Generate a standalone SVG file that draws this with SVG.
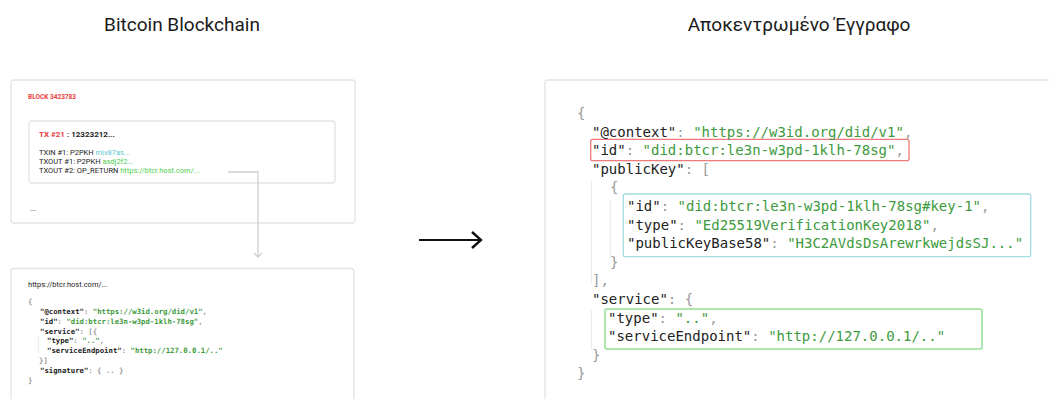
<svg xmlns="http://www.w3.org/2000/svg" width="1049" height="399" viewBox="0 0 1049 399">
<style>
.title{font-family:Roboto,"Liberation Sans",sans-serif;font-size:19px;fill:#1a1a1a;text-anchor:middle}
.card{fill:#fff;stroke:#e4e4e4;stroke-width:1.3}
.sans{font-family:Roboto,"Liberation Sans",Arial,sans-serif;fill:#222}
.mono{font-family:"DejaVu Sans Mono","Liberation Mono",monospace;fill:#222}
.big{font-size:14px}
.small{font-size:7.3px;font-weight:bold}
.s{fill:#3d9a3d}
.p{fill:#9a9a9a}
.red{fill:#e8403c}
.teal{fill:#5cc6cf}
.lime{fill:#4fcf4f}
.guide{stroke:#ececec;stroke-width:1.2;fill:none}
.conn{fill:none;stroke:#cfcfcf;stroke-width:1.3}
.main{fill:none;stroke:#111;stroke-width:2.2}
</style>
<defs>
<marker id="chev-small" markerUnits="userSpaceOnUse" markerWidth="12" markerHeight="12" viewBox="-6 -6 12 12" refX="0" refY="0" orient="auto">
<path d="M-4,-4 L0,0 L-4,4" fill="none" stroke="#cfcfcf" stroke-width="1.3"/>
</marker>
<marker id="chev-big" markerUnits="userSpaceOnUse" markerWidth="24" markerHeight="24" viewBox="-12 -12 24 24" refX="0" refY="0" orient="auto">
<path d="M-9,-8 L0,0 L-9,8" fill="none" stroke="#111" stroke-width="2.4"/>
</marker>
</defs>
<rect width="1049" height="399" fill="#fff"/>

<text class="title" x="182" y="31">Bitcoin Blockchain</text>
<text class="title" x="799" y="31">Αποκεντρωμένο Έγγραφο</text>

<g id="block">
<rect class="card" x="11" y="80" width="344" height="143" rx="3"/>
<text class="sans red" x="28" y="99" font-size="6.5" font-weight="bold">BLOCK 3423783</text>
<text class="sans" x="30" y="211" font-size="7.5">...</text>
</g>

<g id="tx">
<rect class="card" x="29" y="121" width="306" height="62" rx="3"/>
<text class="sans" x="39" y="137" font-size="8" font-weight="bold" xml:space="preserve"><tspan class="red">TX #21</tspan> : 12323212...</text>
<text class="sans" x="39" y="155" font-size="7.5" xml:space="preserve">TXIN #1: P2PKH <tspan class="teal">miv87as...</tspan></text>
<text class="sans" x="39" y="164" font-size="7.5" xml:space="preserve">TXOUT #1: P2PKH <tspan class="lime">asdj2f2...</tspan></text>
<text class="sans" x="39" y="173" font-size="7.5" xml:space="preserve">TXOUT #2: OP_RETURN <tspan class="lime">https://btcr.host.com/...</tspan></text>
</g>

<g id="hosted-doc">
<rect class="card" x="11" y="268.5" width="343" height="150" rx="3"/>
<text class="sans" x="28" y="287" font-size="7.5">https://btcr.host.com/...</text>
<path class="guide" d="M38.5 336 V353"/>
<text class="mono small" x="28" y="304.2"><tspan class="p">{</tspan></text>
<text class="mono small" x="40" y="314" xml:space="preserve">"@context"<tspan class="p">: </tspan><tspan class="s">"https://w3id.org/did/v1"</tspan><tspan class="p">,</tspan></text>
<text class="mono small" x="40" y="323.8" xml:space="preserve">"id"<tspan class="p">: </tspan><tspan class="s">"did:btcr:le3n-w3pd-1klh-78sg"</tspan><tspan class="p">,</tspan></text>
<text class="mono small" x="40" y="333.6" xml:space="preserve">"service"<tspan class="p">: [{</tspan></text>
<text class="mono small" x="47" y="343.4" xml:space="preserve">"type"<tspan class="p">: </tspan><tspan class="s">".."</tspan><tspan class="p">,</tspan></text>
<text class="mono small" x="47" y="353.2" xml:space="preserve">"serviceEndpoint"<tspan class="p">: </tspan><tspan class="s">"http://127.0.0.1/.."</tspan></text>
<text class="mono small" x="39" y="363"><tspan class="p">}]</tspan></text>
<text class="mono small" x="40" y="372.8" xml:space="preserve">"signature"<tspan class="p">: { .. }</tspan></text>
<text class="mono small" x="28" y="382.6"><tspan class="p">}</tspan></text>
</g>

<g id="did-document">
<rect class="card" x="545" y="80" width="530" height="340" rx="3"/>
<path class="guide" d="M591.5 181 V284 M610.5 200 V258 M591.5 310 V350"/>
<rect x="590.7" y="139.3" width="318.3" height="21.4" rx="2" fill="none" stroke="#ef7a7a" stroke-width="1.3"/>
<rect x="623.3" y="194" width="407.4" height="62.7" rx="2" fill="none" stroke="#a4dde0" stroke-width="1.3"/>
<rect x="605" y="309" width="377" height="40" rx="2" fill="none" stroke="#93df93" stroke-width="1.5"/>
<text class="mono big" x="577" y="118"><tspan class="p">{</tspan></text>
<text class="mono big" x="592" y="136.6" xml:space="preserve">"@context"<tspan class="p">: </tspan><tspan class="s">"https://w3id.org/did/v1"</tspan><tspan class="p">,</tspan></text>
<text class="mono big" x="592" y="155.2" xml:space="preserve">"id"<tspan class="p">: </tspan><tspan class="s">"did:btcr:le3n-w3pd-1klh-78sg"</tspan><tspan class="p">,</tspan></text>
<text class="mono big" x="592" y="173.8" xml:space="preserve">"publicKey"<tspan class="p">: [</tspan></text>
<text class="mono big" x="610" y="192.4"><tspan class="p">{</tspan></text>
<text class="mono big" x="627" y="211" xml:space="preserve">"id"<tspan class="p">: </tspan><tspan class="s">"did:btcr:le3n-w3pd-1klh-78sg#key-1"</tspan><tspan class="p">,</tspan></text>
<text class="mono big" x="627" y="229.6" xml:space="preserve">"type"<tspan class="p">: </tspan><tspan class="s">"Ed25519VerificationKey2018"</tspan><tspan class="p">,</tspan></text>
<text class="mono big" x="627" y="248.2" xml:space="preserve">"publicKeyBase58"<tspan class="p">: </tspan><tspan class="s">"H3C2AVdsDsArewrkwejdsSJ..."</tspan></text>
<text class="mono big" x="610" y="266.8"><tspan class="p">}</tspan></text>
<text class="mono big" x="592" y="285.4"><tspan class="p">],</tspan></text>
<text class="mono big" x="592" y="304" xml:space="preserve">"service"<tspan class="p">: {</tspan></text>
<text class="mono big" x="608" y="322.6" xml:space="preserve">"type"<tspan class="p">: </tspan><tspan class="s">".."</tspan><tspan class="p">,</tspan></text>
<text class="mono big" x="608" y="341.2" xml:space="preserve">"serviceEndpoint"<tspan class="p">: </tspan><tspan class="s">"http://127.0.0.1/.."</tspan></text>
<text class="mono big" x="592" y="359.8"><tspan class="p">}</tspan></text>
<text class="mono big" x="577" y="378.4"><tspan class="p">}</tspan></text>
</g>

<g id="connectors">
<path class="conn" d="M228 172 H258 V257" marker-end="url(#chev-small)"/>
<path class="main" d="M419 240 H481" marker-end="url(#chev-big)"/>
</g>
</svg>
